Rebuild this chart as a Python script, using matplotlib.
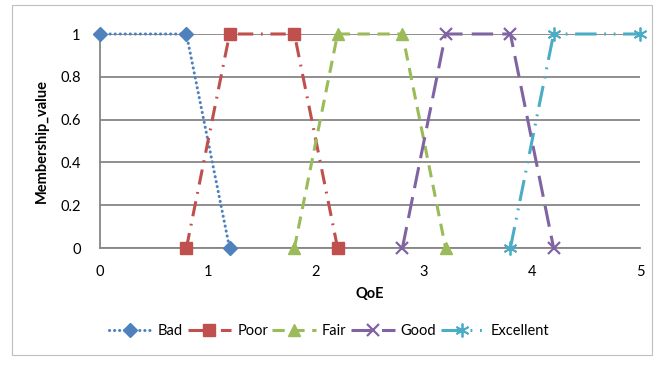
import matplotlib
matplotlib.use("Agg")
import matplotlib.pyplot as plt
from matplotlib.patches import Rectangle

plt.rcParams['font.family'] = ['Lato', 'DejaVu Sans']

series_names = ["Bad", "Poor", "Fair", "Good", "Excellent"]
bad_x = [0, 0.8, 1.2]
bad_y = [1, 1, 0]
poor_x = [0.8, 1.2, 1.8, 2.2]
poor_y = [0, 1, 1, 0]
fair_x = [1.8, 2.2, 2.8, 3.2]
fair_y = [0, 1, 1, 0]
good_x = [2.8, 3.2, 3.8, 4.2]
good_y = [0, 1, 1, 0]
exc_x = [3.8, 4.2, 5]
exc_y = [0, 1, 1]
xticks = [0, 1, 2, 3, 4, 5]
yticks = [0, 0.2, 0.4, 0.6, 0.8, 1]
ytick_labels = ["0", "0.2", "0.4", "0.6", "0.8", "1"]

fig = plt.figure(figsize=(6.64, 3.66), dpi=100)
fig.patches.append(Rectangle((12/664, 1-355/366), 640/664, 350/366, transform=fig.transFigure,
                             fill=False, edgecolor='#bfbfbf', linewidth=0.8))
ax = fig.add_axes([100/664, 1-248/366, 540/664, 214/366])

styles = [
    dict(color='#4F81BD', linestyle=(0, (0.05, 1.6)), marker='D', markersize=7.5,
         dash_capstyle='round', solid_capstyle='round'),
    dict(color='#C0504D', linestyle=(0, (5, 2.5, 0.6, 2.5)), marker='s', markersize=9),
    dict(color='#9BBB59', linestyle=(0, (4, 2.5)), marker='^', markersize=9),
    dict(color='#8064A2', linestyle=(0, (7, 3)), marker='x', markersize=8, markeredgewidth=1.6),
    dict(color='#4BACC6', linestyle=(0, (7, 2.5, 0.6, 2.5, 0.6, 2.5)), marker=(6, 2, 0), markersize=10, markeredgewidth=1.3),
]
xs = [bad_x, poor_x, fair_x, good_x, exc_x]
ys = [bad_y, poor_y, fair_y, good_y, exc_y]
for name, x, y, st in zip(series_names, xs, ys, styles):
    ax.plot(x, y, label=name, linewidth=2.2, clip_on=False, zorder=3, **st)

ax.set_xlim(0, 5)
ax.set_ylim(0, 1)
ax.set_xticks(xticks)
ax.set_yticks(yticks)
ax.set_yticklabels(ytick_labels)
ax.grid(axis='y', color='#868686', linewidth=1.3)
ax.set_axisbelow(True)
for s in ['top', 'right']:
    ax.spines[s].set_visible(False)
for s in ['left', 'bottom']:
    ax.spines[s].set_color('#868686')
    ax.spines[s].set_linewidth(1.3)
ax.tick_params(length=0, labelsize=10.5, pad=12)
ax.tick_params(axis='y', pad=14)
ax.set_xlabel("QoE", fontsize=10.5, fontweight='bold', labelpad=6)
ax.set_ylabel("Membership_value", fontsize=10.5, fontweight='bold', labelpad=8)

leg = fig.legend(loc='center', bbox_to_anchor=(0.495, 1-331/366), ncol=5, frameon=False,
                 fontsize=10.5, handlelength=3.0, columnspacing=0.3, handletextpad=0.4)

fig.savefig("out.png", dpi=100)
